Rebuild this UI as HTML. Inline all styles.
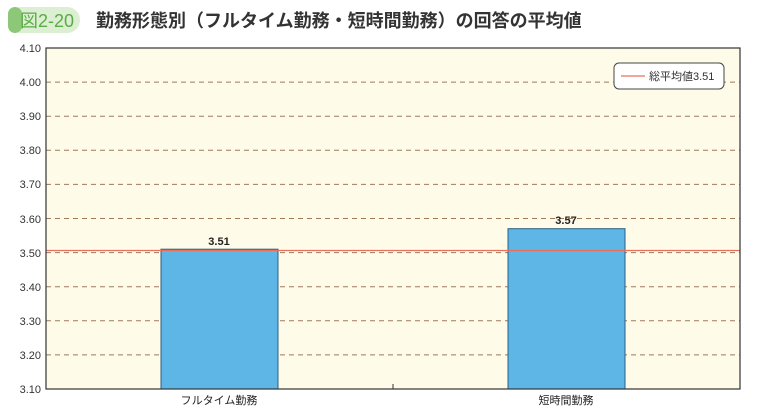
<!DOCTYPE html>
<html><head><meta charset="utf-8"><style>
body{margin:0;background:#fff;width:760px;height:415px;overflow:hidden;font-family:"Liberation Sans","Noto Sans CJK JP",sans-serif}
</style></head><body>
<svg width="760" height="415" xmlns="http://www.w3.org/2000/svg" font-family="Liberation Sans, Noto Sans CJK JP, sans-serif">
<rect x="8" y="7" width="72" height="26" rx="13" fill="#dcefd2"/>
<rect x="8" y="7" width="14" height="26" rx="7" fill="#8cc878"/>
<text x="20" y="27" font-size="18" fill="#5aad45">図2-20</text>
<text x="96" y="27" font-size="18" font-weight="bold" fill="#333">勤務形態別（フルタイム勤務・短時間勤務）の回答の平均値</text>
<rect x="46" y="48" width="694" height="341" fill="#fefbe9"/>
<g stroke="#a0785a" stroke-dasharray="5,4" stroke-width="1">
<line x1="46" x2="740" y1="82.1" y2="82.1"/><line x1="46" x2="740" y1="116.2" y2="116.2"/>
<line x1="46" x2="740" y1="150.3" y2="150.3"/><line x1="46" x2="740" y1="184.4" y2="184.4"/>
<line x1="46" x2="740" y1="218.5" y2="218.5"/><line x1="46" x2="740" y1="252.6" y2="252.6"/>
<line x1="46" x2="740" y1="286.7" y2="286.7"/><line x1="46" x2="740" y1="320.8" y2="320.8"/>
<line x1="46" x2="740" y1="354.9" y2="354.9"/>
</g>
<rect x="161" y="249.2" width="117" height="139.8" fill="#5db6e6" stroke="#2a5f85" stroke-width="1"/>
<rect x="508" y="228.7" width="117" height="160.3" fill="#5db6e6" stroke="#2a5f85" stroke-width="1"/>
<line x1="46" x2="740" y1="250.5" y2="250.5" stroke="#e8705a" stroke-width="1.3"/>
<rect x="46" y="48" width="694" height="341" fill="none" stroke="#333" stroke-width="1.2"/>
<line x1="393" x2="393" y1="384" y2="389" stroke="#333"/>
<g font-size="11" fill="#333" text-anchor="end">
<text x="41" y="52">4.10</text><text x="41" y="86">4.00</text><text x="41" y="120">3.90</text>
<text x="41" y="154">3.80</text><text x="41" y="188">3.70</text><text x="41" y="223">3.60</text>
<text x="41" y="257">3.50</text><text x="41" y="291">3.40</text><text x="41" y="325">3.30</text>
<text x="41" y="359">3.20</text><text x="41" y="393">3.10</text>
</g>
<g font-size="11" fill="#222" text-anchor="middle">
<text x="219" y="245" font-weight="bold">3.51</text><text x="566" y="224" font-weight="bold">3.57</text>
<text x="219" y="404">フルタイム勤務</text><text x="566" y="404">短時間勤務</text>
</g>
<rect x="614" y="63" width="110" height="26" rx="5" fill="#fff" stroke="#444"/>
<line x1="621" x2="645" y1="76" y2="76" stroke="#e8705a" stroke-width="1.3"/>
<text x="649" y="80" font-size="11" fill="#333">総平均値3.51</text>
</svg>
</body></html>
